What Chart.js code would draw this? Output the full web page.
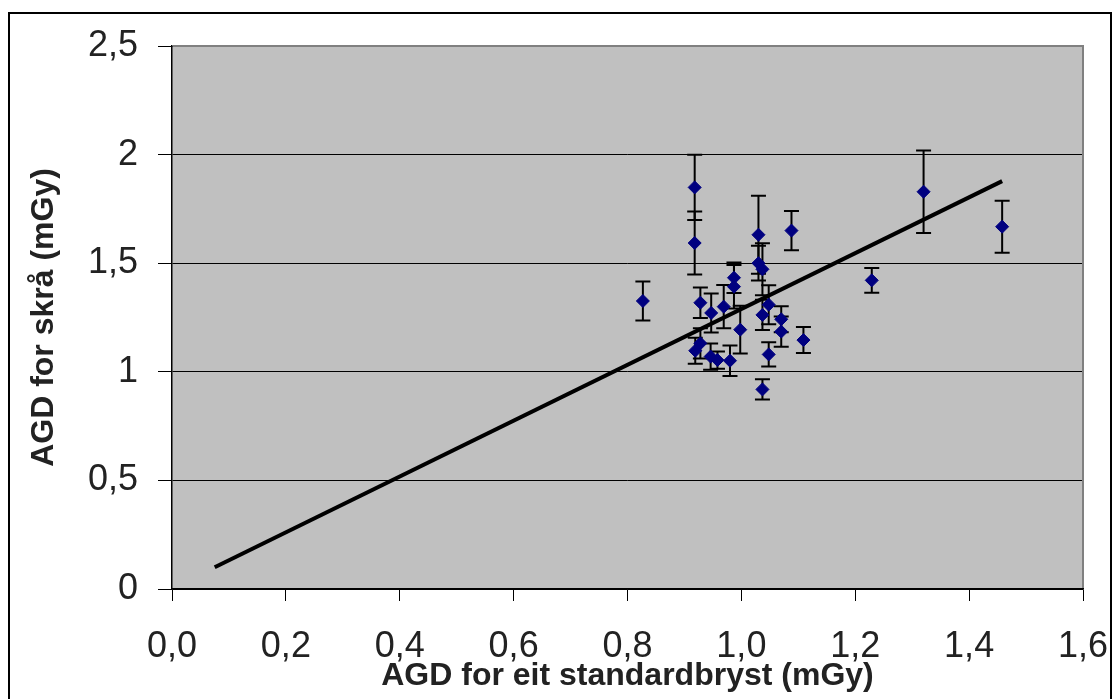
<!DOCTYPE html>
<html>
<head>
<meta charset="utf-8">
<script src="https://cdn.jsdelivr.net/npm/chart.js@4/dist/chart.umd.min.js"></script>
<style>
  html, body { margin: 0; padding: 0; background: #fff; overflow: hidden; }
  #wrap { position: relative; width: 1114px; height: 699px; }
  #frame { position: absolute; left: 8px; top: 12px; width: 1104px; height: 700px; border: 2px solid #000; box-sizing: border-box; pointer-events: none; }
  canvas { position: absolute; left: 0; top: 0; }
</style>
</head>
<body>
<div id="wrap">
  <div id="frame"></div>
  <canvas id="agdChart" width="1114" height="699"></canvas>
</div>
<script>
// measured points (x = standard breast AGD, y = oblique AGD) and error half-widths
const agdStandard = [0.827, 0.918, 0.918, 1.030, 1.088, 1.030, 1.037, 0.987, 0.987, 0.928,
                     0.947, 0.969, 0.998, 1.048, 1.037, 1.070, 1.070, 1.109, 1.048, 1.037,
                     0.980, 0.958, 0.946, 0.928, 0.919, 1.320, 1.458, 1.229];
const agdSkra     = [1.326, 1.849, 1.593, 1.631, 1.650, 1.500, 1.472, 1.433, 1.392, 1.318,
                     1.271, 1.300, 1.194, 1.309, 1.262, 1.242, 1.185, 1.146, 1.080, 0.919,
                     1.051, 1.054, 1.070, 1.131, 1.097, 1.829, 1.668, 1.421];
const agdError    = [0.090, 0.150, 0.145, 0.180, 0.090, 0.080, 0.120, 0.070, 0.100, 0.070,
                     0.090, 0.100, 0.110, 0.090, 0.070, 0.060, 0.070, 0.060, 0.056, 0.047,
                     0.070, 0.040, 0.060, 0.070, 0.060, 0.190, 0.120, 0.057];

// trend line end points
const trendX = [0.075, 1.458];
const trendY = [0.100, 1.878];

const xTickLabels = ['0,0', '0,2', '0,4', '0,6', '0,8', '1,0', '1,2', '1,4', '1,6'];
const yTickLabels = ['0', '0,5', '1', '1,5', '2', '2,5'];

const scatterPoints = agdStandard.map((x, i) => ({ x: x, y: agdSkra[i] }));
const trendPoints = trendX.map((x, i) => ({ x: x, y: trendY[i] }));

// gray plot background + gray top/right edge
const plotBackground = {
  id: 'plotBackground',
  beforeDraw(chart) {
    const { ctx, chartArea } = chart;
    ctx.save();
    ctx.fillStyle = '#c0c0c0';
    ctx.fillRect(chartArea.left, chartArea.top, chartArea.right - chartArea.left, chartArea.bottom - chartArea.top);
    ctx.restore();
  },
  afterDraw(chart) {
    const { ctx, chartArea } = chart;
    ctx.save();
    ctx.strokeStyle = '#808080';
    ctx.lineWidth = 2;
    ctx.beginPath();
    ctx.moveTo(chartArea.left + 1, chartArea.top);
    ctx.lineTo(chartArea.right, chartArea.top);
    ctx.lineTo(chartArea.right, chartArea.bottom - 1);
    ctx.stroke();
    ctx.restore();
  }
};

// vertical error bars with caps
const errorBars = {
  id: 'errorBars',
  beforeDatasetsDraw(chart) {
    const { ctx } = chart;
    const xs = chart.scales.x, ys = chart.scales.y;
    ctx.save();
    ctx.strokeStyle = '#000';
    ctx.lineWidth = 2;
    agdStandard.forEach((xv, i) => {
      const px = xs.getPixelForValue(xv);
      const top = ys.getPixelForValue(agdSkra[i] + agdError[i]);
      const bot = ys.getPixelForValue(agdSkra[i] - agdError[i]);
      ctx.beginPath();
      ctx.moveTo(px, top); ctx.lineTo(px, bot);
      ctx.moveTo(px - 7.5, top); ctx.lineTo(px + 7.5, top);
      ctx.moveTo(px - 7.5, bot); ctx.lineTo(px + 7.5, bot);
      ctx.stroke();
    });
    ctx.restore();
  }
};

const ctx = document.getElementById('agdChart').getContext('2d');
new Chart(ctx, {
  type: 'scatter',
  data: {
    datasets: [
      {
        label: 'AGD',
        data: scatterPoints,
        pointStyle: 'rectRot',
        pointRadius: 6.5,
        backgroundColor: '#000080',
        borderColor: '#000080',
        borderWidth: 1,
        order: 0
      },
      {
        label: 'Trend',
        type: 'line',
        data: trendPoints,
        borderColor: '#000',
        borderWidth: 4,
        pointRadius: 0,
        fill: false,
        order: 1
      }
    ]
  },
  options: {
    responsive: false,
    animation: false,
    devicePixelRatio: 1,
    layout: { padding: { top: 46, right: 31, left: 0, bottom: 0 } },
    plugins: {
      legend: { display: false },
      tooltip: { enabled: false }
    },
    scales: {
      x: {
        type: 'linear',
        min: 0,
        max: 1.6,
        afterBuildTicks: (scale) => { scale.ticks = xTickLabels.map((t, i) => ({ value: i * 0.2 })); },
        afterFit: (scale) => {
          scale.height = 110;
          scale.paddingLeft = 0;
          scale.paddingRight = 0;
        },
        ticks: {
          callback: (v, i) => xTickLabels[i],
          color: '#222',
          padding: 24,
          maxRotation: 0,
          autoSkip: false,
          font: { family: 'Liberation Sans, Arial, sans-serif', size: 36 }
        },
        grid: { drawOnChartArea: false, drawTicks: true, tickLength: 12, color: '#000', lineWidth: 1 },
        border: { display: true, color: '#000', width: 1.5 },
        title: {
          display: true,
          text: 'AGD for eit standardbryst (mGy)',
          color: '#222',
          padding: { top: 0, bottom: 4 },
          font: { family: 'Liberation Sans, Arial, sans-serif', size: 32, weight: 'bold', lineHeight: 1.2 }
        }
      },
      y: {
        type: 'linear',
        min: 0,
        max: 2.5,
        afterBuildTicks: (scale) => { scale.ticks = yTickLabels.map((t, i) => ({ value: i * 0.5 })); },
        afterFit: (scale) => {
          scale.width = 172;
          scale.paddingTop = 0;
          scale.paddingBottom = 0;
        },
        ticks: {
          callback: (v, i) => yTickLabels[i],
          color: '#222',
          padding: 20,
          autoSkip: false,
          font: { family: 'Liberation Sans, Arial, sans-serif', size: 36 }
        },
        grid: { drawTicks: true, tickLength: 14, color: '#000', lineWidth: 1 },
        border: { display: true, color: '#000', width: 1.5 },
        title: {
          display: true,
          text: 'AGD for skrå (mGy)',
          color: '#222',
          padding: { top: 25, bottom: 0 },
          font: { family: 'Liberation Sans, Arial, sans-serif', size: 32, weight: 'bold', lineHeight: 1.2 }
        }
      }
    }
  },
  plugins: [plotBackground, errorBars]
});
</script>
</body>
</html>
